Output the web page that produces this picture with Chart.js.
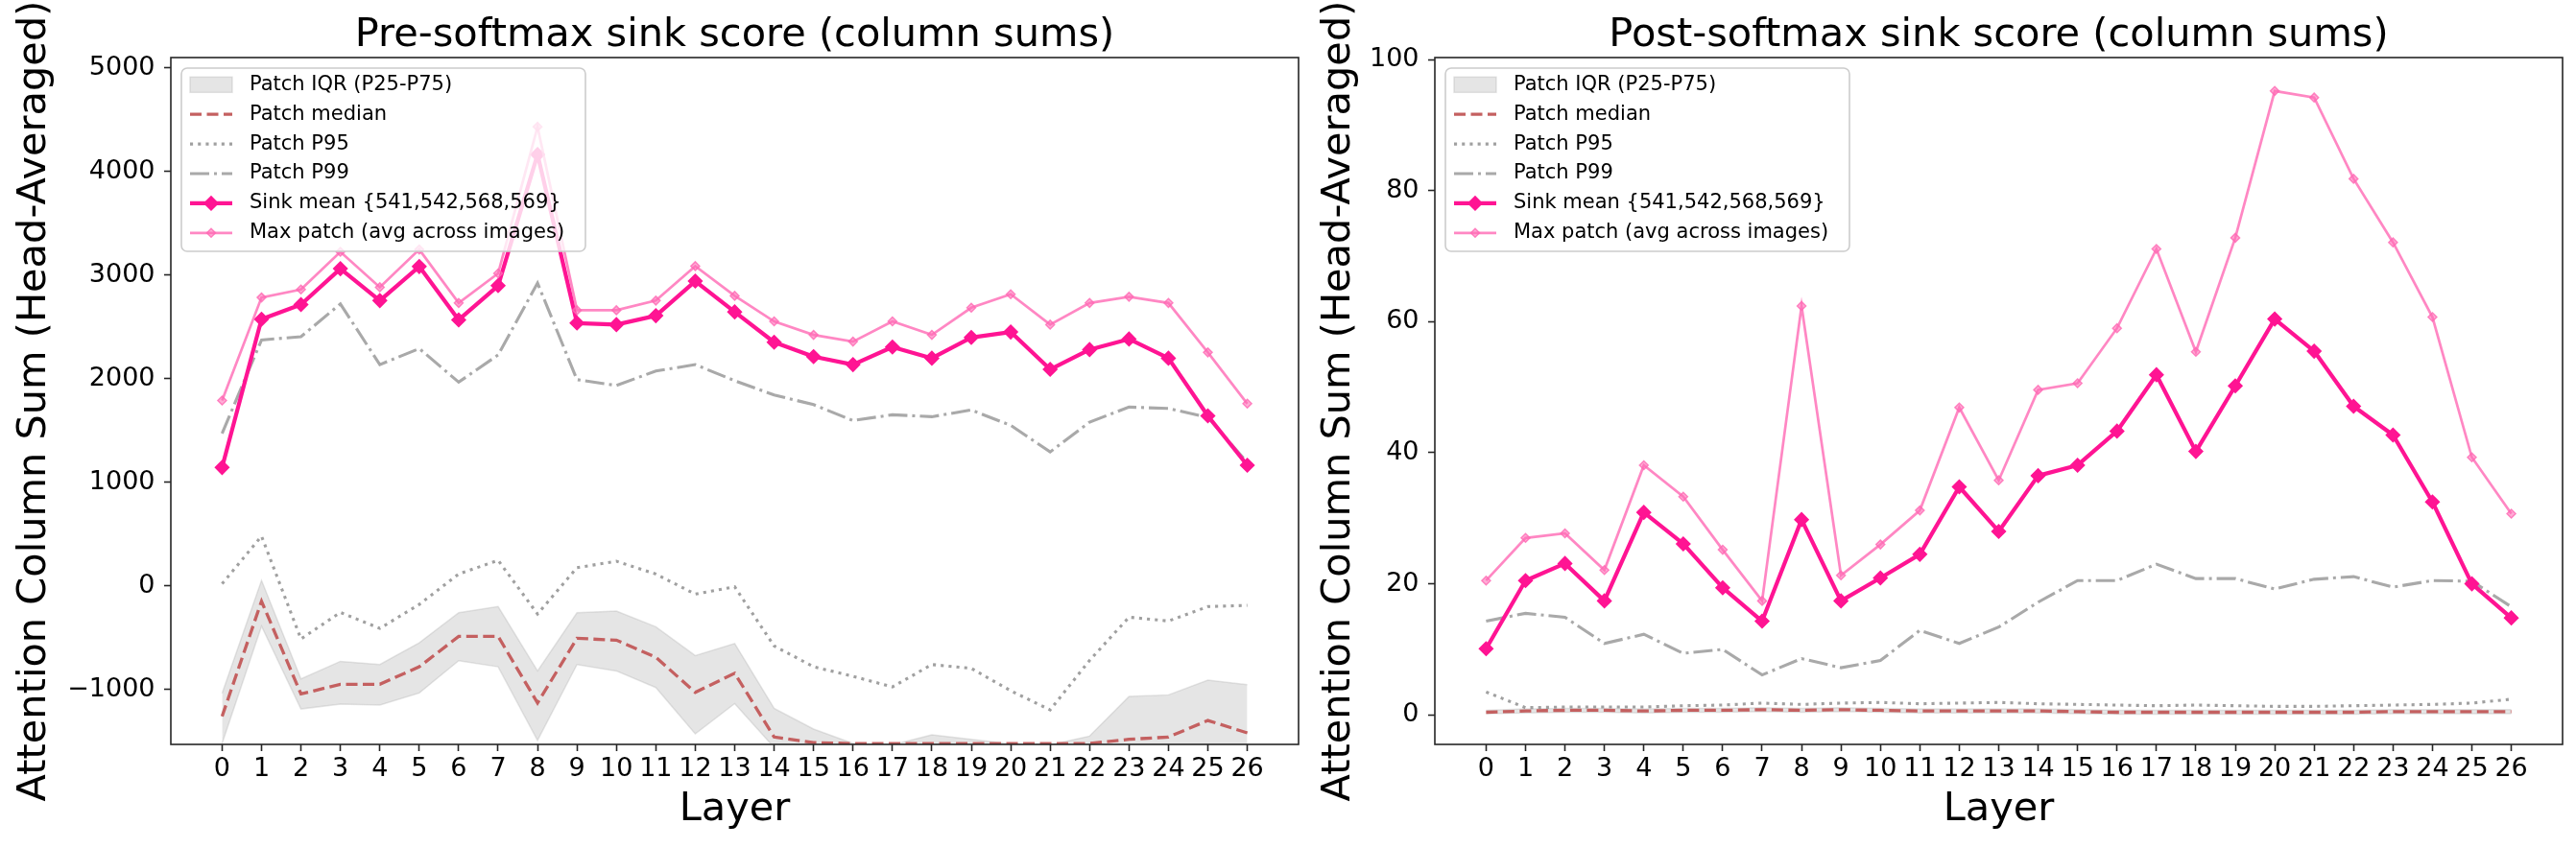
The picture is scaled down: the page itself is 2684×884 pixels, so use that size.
<!DOCTYPE html>
<html>
<head>
<meta charset="utf-8">
<script src="https://cdn.jsdelivr.net/npm/chart.js@4.4.0/dist/chart.umd.min.js"></script>
<style>
  body { margin: 0; background: #fff; }
  #wrap { position: relative; width: 2684px; height: 884px; background: #fff; }
  canvas { position: absolute; top: 0; }
</style>
</head>
<body>
<div id="wrap">
  <canvas id="preChart" width="1380" height="884" style="left:0px"></canvas>
  <canvas id="postChart" width="1342" height="884" style="left:1342px"></canvas>
</div>
<script>
// layers on the x axis
const layers = [0, 1, 2, 3, 4, 5, 6, 7, 8, 9, 10, 11, 12, 13, 14, 15, 16, 17, 18, 19, 20, 21, 22, 23, 24, 25, 26];

const seriesLabels = ['Patch IQR (P25-P75)', 'Patch median', 'Patch P95', 'Patch P99',
    'Sink mean {541,542,568,569}', 'Max patch (avg across images)'];

// y tick values
const preYTicks = [-1000, 0, 1000, 2000, 3000, 4000, 5000];
const postYTicks = [0, 20, 40, 60, 80, 100];

// Pre-softmax (left panel)
const preSinkMean = [1143, 2574, 2716, 3062, 2754, 3083, 2568, 2898, 4164, 2537, 2522, 2608, 2942, 2645, 2352, 2213, 2136, 2306, 2198, 2398, 2451, 2090, 2281, 2383, 2198, 1642, 1164];
const preMaxPatch = [1790, 2784, 2861, 3225, 2883, 3247, 2731, 3016, 4432, 2661, 2661, 2754, 3087, 2800, 2553, 2423, 2358, 2553, 2423, 2685, 2815, 2522, 2731, 2791, 2731, 2254, 1759];
const preP99 = [1472, 2374, 2405, 2722, 2136, 2291, 1967, 2229, 2923, 1991, 1935, 2074, 2136, 1981, 1843, 1750, 1596, 1652, 1633, 1698, 1550, 1293, 1581, 1726, 1713, 1627, 1190];
const preP95 = [20, 480, -512, -256, -410, -179, 115, 247, -271, 176, 238, 115, -80, -9, -580, -780, -873, -975, -759, -796, -1012, -1197, -719, -302, -339, -200, -188];
const preMedian = [-1259, -148, -1043, -950, -950, -781, -487, -487, -1130, -506, -524, -688, -1028, -843, -1459, -1512, -1522, -1522, -1522, -1522, -1522, -1522, -1521, -1481, -1459, -1299, -1419];
const preP75 = [-1037, 53, -898, -728, -759, -549, -259, -200, -821, -259, -244, -395, -673, -556, -1182, -1382, -1520, -1535, -1438, -1481, -1525, -1535, -1450, -1068, -1052, -910, -954];
const preP25 = [-1520, -389, -1188, -1142, -1151, -1034, -722, -781, -1491, -759, -821, -981, -1429, -1136, -1560, -1700, -1750, -1750, -1750, -1750, -1750, -1750, -1750, -1700, -1700, -1650, -1650];

// Post-softmax (right panel)
const postSinkMean = [10.1, 20.5, 23.1, 17.4, 30.9, 26.1, 19.4, 14.3, 29.8, 17.4, 20.9, 24.5, 34.8, 28.0, 36.5, 38.1, 43.3, 51.9, 40.2, 50.2, 60.4, 55.5, 47.1, 42.7, 32.5, 20.0, 14.8];
const postMaxPatch = [20.5, 27.0, 27.7, 22.1, 38.1, 33.3, 25.2, 17.4, 62.4, 21.3, 26.0, 31.2, 46.9, 35.8, 49.6, 50.6, 59.0, 71.1, 55.4, 72.8, 95.2, 94.2, 81.8, 72.1, 60.7, 39.3, 30.7];
const postP99 = [14.3, 15.5, 14.9, 10.9, 12.3, 9.4, 10.0, 6.1, 8.6, 7.2, 8.3, 12.9, 10.9, 13.4, 17.2, 20.5, 20.5, 23.0, 20.8, 20.8, 19.2, 20.7, 21.1, 19.5, 20.5, 20.4, 16.5];
const postP95 = [3.5, 1.1, 1.2, 1.2, 1.2, 1.4, 1.5, 1.8, 1.6, 1.8, 1.9, 1.7, 1.8, 1.9, 1.7, 1.6, 1.5, 1.4, 1.5, 1.4, 1.3, 1.3, 1.4, 1.5, 1.6, 1.8, 2.4];
const postMedian = [0.4, 0.6, 0.7, 0.7, 0.6, 0.7, 0.7, 0.8, 0.7, 0.8, 0.7, 0.6, 0.6, 0.6, 0.6, 0.5, 0.4, 0.4, 0.4, 0.4, 0.4, 0.4, 0.4, 0.5, 0.5, 0.5, 0.5];
const postP75 = [0.7, 0.9, 1.0, 1.0, 0.9, 1.0, 1.0, 1.1, 1.0, 1.1, 1.0, 0.9, 0.9, 0.9, 0.9, 0.8, 0.7, 0.7, 0.7, 0.7, 0.7, 0.7, 0.7, 0.8, 0.8, 0.8, 0.8];
const postP25 = [0.2, 0.3, 0.4, 0.4, 0.3, 0.4, 0.4, 0.5, 0.4, 0.5, 0.4, 0.3, 0.3, 0.3, 0.3, 0.2, 0.1, 0.1, 0.1, 0.1, 0.1, 0.1, 0.1, 0.2, 0.2, 0.2, 0.2];

const FONT = 'DejaVu Sans';
Chart.defaults.font.family = FONT;
Chart.defaults.color = '#000';

const IQR_COLOR = 'rgba(170,170,170,0.3)';
const styles = {
    max: { borderColor: 'rgba(255,105,180,0.8)', borderWidth: 2.7, pointStyle: 'rectRot', pointRadius: 4.5,
        pointBackgroundColor: 'rgba(255,105,180,0.55)', pointBorderColor: 'rgba(255,105,180,0.8)', pointBorderWidth: 1.5 },
    sink: { borderColor: '#ff1493', borderWidth: 4.2, pointStyle: 'rectRot', pointRadius: 7,
        pointBackgroundColor: '#ff1493', pointBorderColor: '#ff1493', pointBorderWidth: 1.5, borderJoinStyle: 'round' },
    p99: { borderColor: '#a9a9a9', borderWidth: 3.1, borderDash: [20, 5, 3, 5] },
    p95: { borderColor: '#a0a0a0', borderWidth: 3.1, borderDash: [3.1, 5.1] },
    median: { borderColor: 'rgb(196,96,96)', borderWidth: 3.3, borderDash: [12, 5.5] },
    iqr: { borderColor: IQR_COLOR, borderWidth: 1.5, backgroundColor: IQR_COLOR }
};

function lineSet(label, values, style, extra) {
    return Object.assign({
        label: label,
        data: layers.map((l, i) => ({ x: l, y: values[i] })),
        fill: false, tension: 0, pointRadius: 0
    }, style, extra || {});
}

function minusFmt(v) {
    return v < 0 ? '\u2212' + Math.abs(v) : String(v);
}

// spines, title and the matplotlib-style legend box
const decorPlugin = {
    id: 'decor',
    afterDraw(chart) {
        const ctx = chart.ctx, a = chart.chartArea;
        ctx.save();
        ctx.strokeStyle = '#262626';
        ctx.lineWidth = 1.6;
        ctx.strokeRect(a.left, a.top, a.right - a.left, a.bottom - a.top);

        ctx.fillStyle = '#000';
        ctx.font = '41.5px "' + FONT + '"';
        ctx.textAlign = 'center';
        ctx.textBaseline = 'alphabetic';
        ctx.fillText(chart.options.plugins.decor.title, (a.left + a.right) / 2, 48);

        // legend
        const x0 = a.left + 11, y0 = 71, w = 421, h = 191;
        ctx.beginPath();
        ctx.roundRect(x0, y0, w, h, 6);
        ctx.fillStyle = 'rgba(255,255,255,0.8)';
        ctx.fill();
        ctx.strokeStyle = '#cccccc';
        ctx.lineWidth = 1.6;
        ctx.stroke();

        const hx0 = a.left + 20, hx1 = a.left + 64, tx = a.left + 82;
        const kinds = ['iqr', 'median', 'p95', 'p99', 'sink', 'max'];
        kinds.forEach((k, i) => {
            const cy = y0 + 17.3 + i * 30.9;
            const s = styles[k];
            ctx.save();
            if (k === 'iqr') {
                ctx.fillStyle = s.backgroundColor;
                ctx.fillRect(hx0, cy - 8, hx1 - hx0, 16);
                ctx.strokeStyle = s.borderColor;
                ctx.lineWidth = 1.5;
                ctx.strokeRect(hx0, cy - 8, hx1 - hx0, 16);
            } else {
                ctx.strokeStyle = s.borderColor;
                ctx.lineWidth = s.borderWidth;
                ctx.setLineDash(s.borderDash || []);
                ctx.beginPath();
                ctx.moveTo(hx0, cy);
                ctx.lineTo(hx1, cy);
                ctx.stroke();
                if (s.pointRadius) {
                    const r = s.pointRadius, cx = (hx0 + hx1) / 2;
                    ctx.setLineDash([]);
                    ctx.fillStyle = s.pointBackgroundColor;
                    ctx.strokeStyle = s.pointBorderColor;
                    ctx.lineWidth = s.pointBorderWidth;
                    ctx.beginPath();
                    ctx.moveTo(cx - r, cy); ctx.lineTo(cx, cy - r); ctx.lineTo(cx + r, cy); ctx.lineTo(cx, cy + r);
                    ctx.closePath();
                    ctx.fill();
                    ctx.stroke();
                }
            }
            ctx.restore();
            ctx.fillStyle = '#000';
            ctx.font = '21px "' + FONT + '"';
            ctx.textAlign = 'left';
            ctx.textBaseline = 'middle';
            ctx.fillText(seriesLabels[i], tx, cy);
        });
        ctx.restore();
    }
};

function makeChart(id, cfg) {
    const tickGrid = { display: true, drawOnChartArea: false, drawTicks: true, tickLength: 7, tickColor: '#262626', tickWidth: 1.6 };
    return new Chart(document.getElementById(id), {
        type: 'line',
        data: {
            datasets: [
                lineSet(seriesLabels[5], cfg.maxPatch, styles.max, { order: 0 }),
                lineSet(seriesLabels[4], cfg.sink, styles.sink, { order: 1 }),
                lineSet(seriesLabels[3], cfg.p99, styles.p99, { order: 2 }),
                lineSet(seriesLabels[2], cfg.p95, styles.p95, { order: 3 }),
                lineSet(seriesLabels[1], cfg.median, styles.median, { order: 4, clip: 0 }),
                lineSet('P75', cfg.p75, styles.iqr, { order: 5, clip: 0, fill: '+1' }),
                lineSet('P25', cfg.p25, styles.iqr, { order: 6, clip: 0 })
            ]
        },
        options: {
            responsive: false,
            devicePixelRatio: 1,
            animation: false,
            events: [],
            layout: { padding: { top: 60, bottom: 0, left: 0, right: cfg.rightPad } },
            scales: {
                x: {
                    type: 'linear', min: -1.3, max: 27.3,
                    afterBuildTicks: s => { s.ticks = layers.map(v => ({ value: v })); },
                    afterFit: s => { s.height = 108; },
                    ticks: { autoSkip: false, maxRotation: 0, minRotation: 0, padding: 3, color: '#000', font: { size: 27 } },
                    grid: tickGrid,
                    border: { display: false },
                    title: { display: true, text: 'Layer', color: '#000', font: { size: 41.5 }, padding: { top: 0, bottom: 15 } }
                },
                y: {
                    type: 'linear', min: cfg.yMin, max: cfg.yMax,
                    afterBuildTicks: s => { s.ticks = cfg.yTicks.map(v => ({ value: v })); },
                    afterFit: s => { s.width = cfg.yWidth; },
                    ticks: { autoSkip: false, padding: 9.5, color: '#000', font: { size: 27 }, callback: minusFmt },
                    grid: tickGrid,
                    border: { display: false },
                    title: { display: true, text: 'Attention Column Sum (Head-Averaged)', color: '#000', font: { size: 41.5 },
                        padding: { top: cfg.yTitlePad, bottom: 0 } }
                }
            },
            plugins: {
                legend: { display: false },
                tooltip: { enabled: false },
                decor: { title: cfg.title }
            }
        },
        plugins: [decorPlugin]
    });
}

makeChart('preChart', {
    title: 'Pre-softmax sink score (column sums)',
    sink: preSinkMean, maxPatch: preMaxPatch, p99: preP99, p95: preP95, median: preMedian, p75: preP75, p25: preP25,
    yMin: -1530, yMax: 5100, yTicks: preYTicks, yWidth: 178, yTitlePad: 11, rightPad: 27
});

makeChart('postChart', {
    title: 'Post-softmax sink score (column sums)',
    sink: postSinkMean, maxPatch: postMaxPatch, p99: postP99, p95: postP95, median: postMedian, p75: postP75, p25: postP25,
    yMin: -4.5, yMax: 100.3, yTicks: postYTicks, yWidth: 153, yTitlePad: 28, rightPad: 14
});
</script>
</body>
</html>
